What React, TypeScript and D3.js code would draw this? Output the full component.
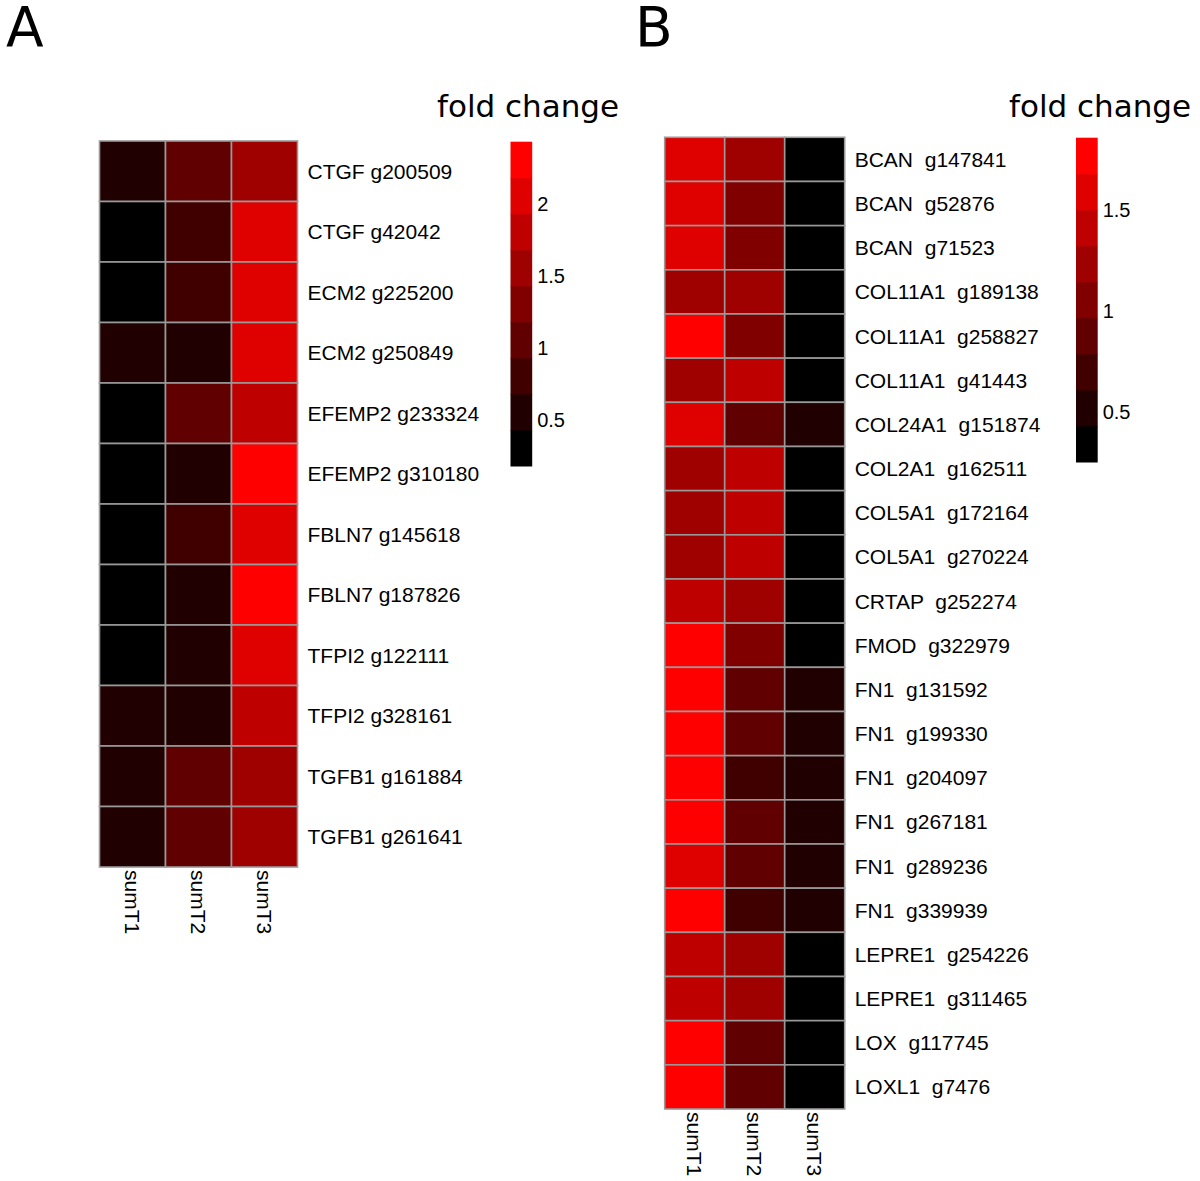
import React from "react";
import * as d3 from "d3";

// ---------- Data ----------
const samples = ["sumT1", "sumT2", "sumT3"];

const genesA = [
  "CTGF g200509", "CTGF g42042", "ECM2 g225200", "ECM2 g250849",
  "EFEMP2 g233324", "EFEMP2 g310180", "FBLN7 g145618", "FBLN7 g187826",
  "TFPI2 g122111", "TFPI2 g328161", "TGFB1 g161884", "TGFB1 g261641",
];
const valuesA = [
  [0.55, 1.05, 1.55],
  [0.25, 0.8, 2.05],
  [0.22, 0.85, 2.0],
  [0.5, 0.6, 2.1],
  [0.2, 1.0, 1.8],
  [0.18, 0.6, 2.43],
  [0.24, 0.75, 2.05],
  [0.21, 0.65, 2.35],
  [0.26, 0.62, 2.0],
  [0.5, 0.55, 1.85],
  [0.6, 1.1, 1.6],
  [0.58, 1.05, 1.6],
];
const ticksA = [0.5, 1, 1.5, 2];

const genesB = [
  "BCAN  g147841", "BCAN  g52876", "BCAN  g71523", "COL11A1  g189138",
  "COL11A1  g258827", "COL11A1  g41443", "COL24A1  g151874", "COL2A1  g162511",
  "COL5A1  g172164", "COL5A1  g270224", "CRTAP  g252274", "FMOD  g322979",
  "FN1  g131592", "FN1  g199330", "FN1  g204097", "FN1  g267181",
  "FN1  g289236", "FN1  g339939", "LEPRE1  g254226", "LEPRE1  g311465",
  "LOX  g117745", "LOXL1  g7476",
];
const valuesB = [
  [1.6, 1.25, 0.3],
  [1.58, 1.05, 0.28],
  [1.6, 1.08, 0.3],
  [1.22, 1.28, 0.27],
  [1.858, 1.02, 0.3],
  [1.2, 1.4, 0.29],
  [1.62, 0.9, 0.5],
  [1.25, 1.38, 0.26],
  [1.24, 1.42, 0.27],
  [1.2, 1.36, 0.3],
  [1.4, 1.27, 0.28],
  [1.75, 1.1, 0.3],
  [1.8, 0.9, 0.48],
  [1.78, 0.88, 0.5],
  [1.82, 0.72, 0.47],
  [1.79, 0.85, 0.52],
  [1.65, 0.9, 0.5],
  [1.8, 0.7, 0.49],
  [1.45, 1.2, 0.27],
  [1.42, 1.25, 0.254],
  [1.76, 0.92, 0.3],
  [1.74, 0.89, 0.31],
];
const ticksB = [0.5, 1, 1.5];

const nColors = 9;
const palette = d3.range(nColors).map((i) =>
  d3.interpolateRgb("black", "red")(i / (nColors - 1))
);

const labelFont = "'Liberation Sans', Arial, Helvetica, sans-serif";
const titleFont = "'DejaVu Sans', sans-serif";

type PanelProps = {
  letter: string;
  letterX: number;
  genes: string[];
  values: number[][];
  ticks: number[];
  gridX0: number;
  gridX1: number;
  gridY0: number;
  gridY1: number;
  legendX: number;
  legendW: number;
  legendY0: number;
  legendY1: number;
  titleX: number;
};

function Panel(p: PanelProps) {
  const flat = p.values.flat();
  const [vmin, vmax] = d3.extent(flat) as [number, number];
  const color = d3.scaleQuantize<string>().domain([vmin, vmax]).range(palette);
  const x = d3.scaleBand().domain(samples).range([p.gridX0, p.gridX1]);
  const y = d3.scaleBand().domain(p.genes).range([p.gridY0, p.gridY1]);
  const ly = d3.scaleLinear().domain([vmin, vmax]).range([p.legendY1, p.legendY0]);
  const breaks = d3.range(nColors + 1).map((i) => vmin + ((vmax - vmin) * i) / nColors);

  return (
    <g>
      <text x={p.letterX} y={46} fontFamily={titleFont} fontSize={55} fill="#000">
        {p.letter}
      </text>
      {p.genes.map((g, r) =>
        samples.map((s, c) => (
          <rect
            key={g + s}
            x={x(s)}
            y={y(g)}
            width={x.bandwidth()}
            height={y.bandwidth()}
            fill={color(p.values[r][c])}
            stroke="#999999"
            strokeWidth={1.6}
          />
        ))
      )}
      {p.genes.map((g) => (
        <text
          key={"l" + g}
          x={p.gridX1 + 10}
          y={(y(g) as number) + y.bandwidth() / 2}
          dominantBaseline="central"
          fontFamily={labelFont}
          fontSize={21}
          style={{ whiteSpace: "pre" }}
          fill="#000"
        >
          {g}
        </text>
      ))}
      {samples.map((s) => {
        const cx = (x(s) as number) + x.bandwidth() / 2;
        const ty = p.gridY1 + 3;
        return (
          <text
            key={"c" + s}
            transform={`translate(${cx},${ty}) rotate(90)`}
            dominantBaseline="central"
            fontFamily={labelFont}
            fontSize={21}
            fill="#000"
          >
            {s}
          </text>
        );
      })}
      {/* legend */}
      {palette.map((col, i) => (
        <rect
          key={"lg" + i}
          x={p.legendX}
          y={ly(breaks[i + 1])}
          width={p.legendW}
          height={ly(breaks[i]) - ly(breaks[i + 1]) + 0.5}
          fill={col}
        />
      ))}
      {p.ticks.map((t) => (
        <text
          key={"t" + t}
          x={p.legendX + p.legendW + 5}
          y={ly(t)}
          dominantBaseline="central"
          fontFamily={labelFont}
          fontSize={20}
          fill="#000"
        >
          {t}
        </text>
      ))}
      <text x={p.titleX} y={116.5} fontFamily={titleFont} fontSize={31} fill="#000">
        fold change
      </text>
    </g>
  );
}

export default function App() {
  return (
    <svg
      width={1200}
      height={1181}
      style={{ position: "absolute", left: 0, top: 0, background: "#fff" }}
    >
      <rect x={0} y={0} width={1200} height={1181} fill="#fff" />
      <Panel
        letter="A"
        letterX={6}
        genes={genesA}
        values={valuesA}
        ticks={ticksA}
        gridX0={99.5}
        gridX1={297.5}
        gridY0={141}
        gridY1={867}
        legendX={510.5}
        legendW={21.7}
        legendY0={141.7}
        legendY1={466}
        titleX={437}
      />
      <Panel
        letter="B"
        letterX={635}
        genes={genesB}
        values={valuesB}
        ticks={ticksB}
        gridX0={664.7}
        gridX1={844.7}
        gridY0={137.3}
        gridY1={1109}
        legendX={1076}
        legendW={21.7}
        legendY0={137.7}
        legendY1={462}
        titleX={1009}
      />
    </svg>
  );
}
